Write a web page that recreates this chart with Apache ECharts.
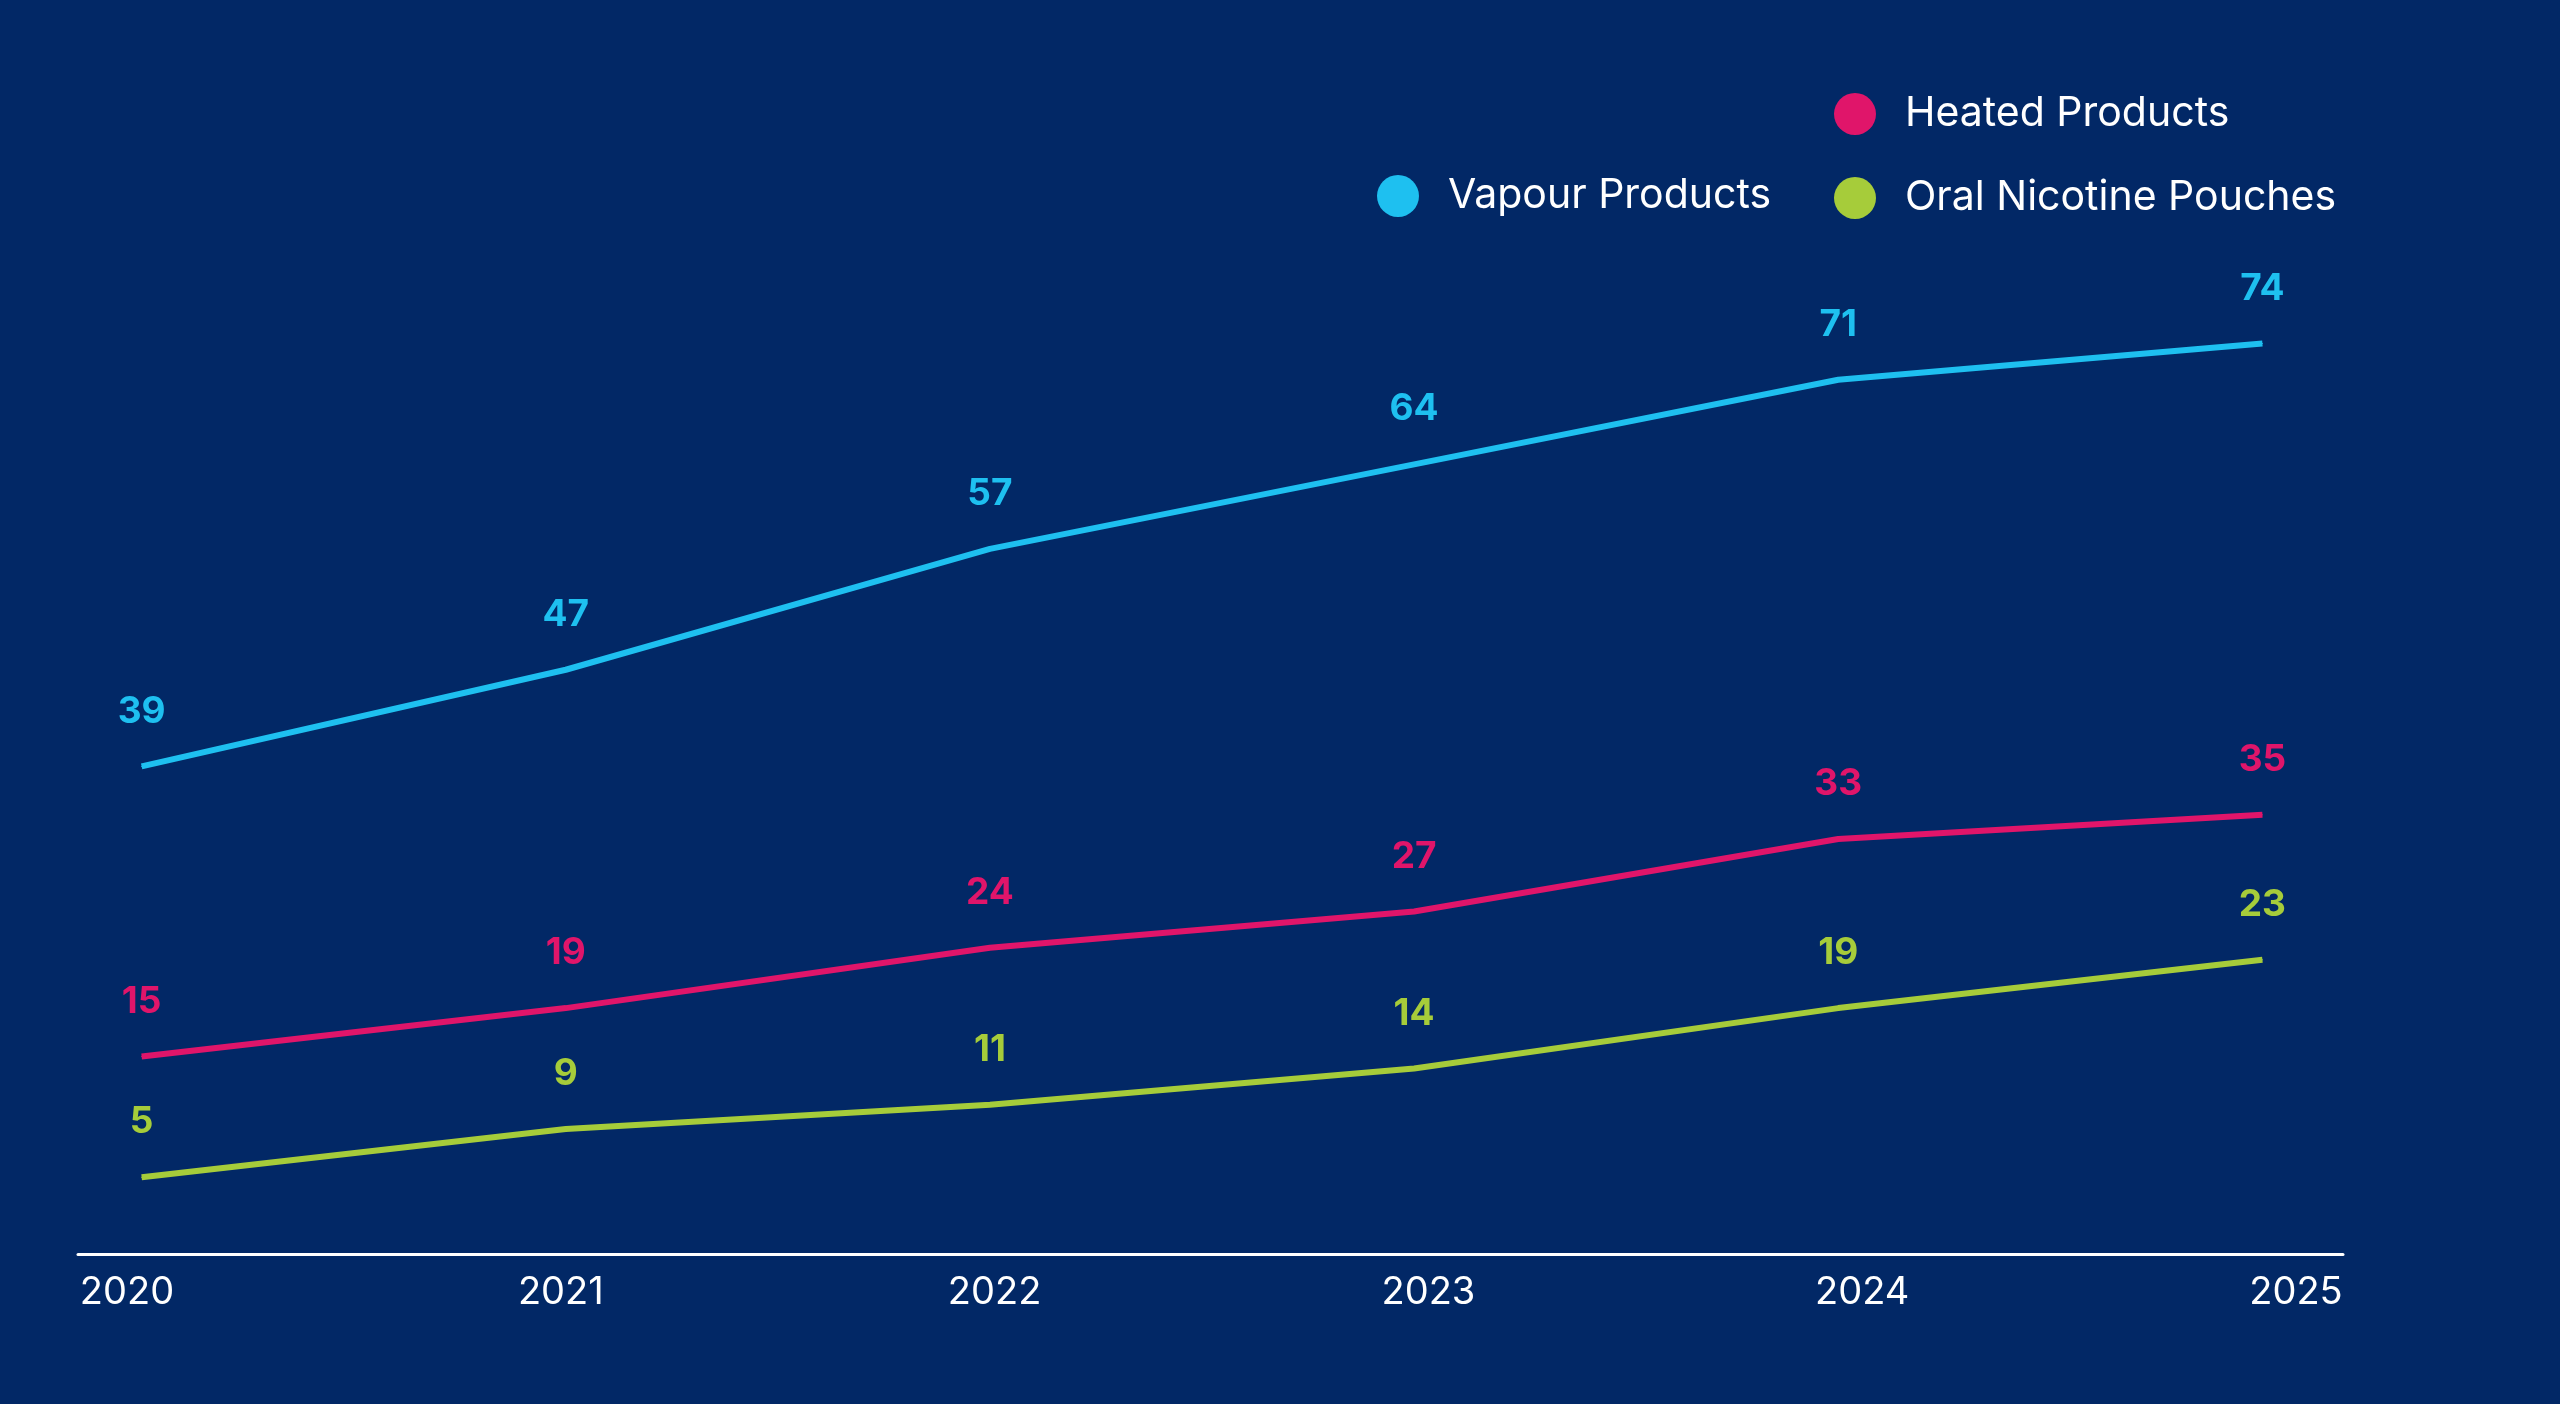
<!DOCTYPE html>
<html><head><meta charset="utf-8">
<script src="https://cdn.jsdelivr.net/npm/echarts@6/dist/echarts.min.js"></script>
<style>html,body{margin:0;padding:0;background:#022866;}#c{width:2560px;height:1404px;}</style>
</head><body><div id="c"></div>
<script>
const years = [2020, 2021, 2022, 2023, 2024, 2025];
const yearLabels = ['2020','2021','2022','2023','2024','2025'];
const vapour = [39, 47, 57, 64, 71, 74];
const heated = [15, 19, 24, 27, 33, 35];
const oral = [5, 9, 11, 14, 19, 23];
const C = {v:'#1ec0f0', h:'#e0156a', o:'#a6cc3a'};
const font = 'Inter, Lato, sans-serif';
const chart = echarts.init(document.getElementById('c'));
function ser(name, data, color){
  return {name, type:'line', xAxisIndex:0, yAxisIndex:0, data: years.map((y,i)=>[y,data[i]]),
    symbol:'circle', symbolSize:1, showSymbol:true, lineStyle:{width:6,color}, itemStyle:{color},
    label:{show:true, position:'top', distance:36, color, fontSize:37, fontWeight:'bold', fontFamily:font,
      formatter:p=>p.value[1]}};
}
const lt = {color:'#fff', fontSize:41, fontFamily:font, padding:[0,0,0,24]};
chart.setOption({
  backgroundColor:'#022866',
  animation:false,
  legend:[
    {data:['Vapour Products'], left:1372, top:170, icon:'circle', itemWidth:42, itemHeight:42, textStyle:lt},
    {data:['Heated Products','Oral Nicotine Pouches'], orient:'vertical', left:1829, top:88, itemGap:42,
     icon:'circle', itemWidth:42, itemHeight:42, textStyle:lt}
  ],
  grid:[{left:78, right:217, top:271, bottom:150},
        {left:127, right:264, top:271, bottom:150}],
  xAxis:[
    {type:'value', gridIndex:0, min:2019.85, max:2025.19, axisLine:{show:true, onZero:false, lineStyle:{color:'#fff', width:3}},
     axisTick:{show:false}, axisLabel:{show:false}, splitLine:{show:false}},
    {type:'category', gridIndex:1, data:yearLabels, boundaryGap:false, axisLine:{show:false}, axisTick:{show:false},
     splitLine:{show:false}, axisLabel:{color:'#fff', fontSize:38, fontFamily:font, margin:20}}
  ],
  yAxis:[
    {type:'value', gridIndex:0, min:-1.35, max:80, show:false},
    {type:'value', gridIndex:1, min:0, max:1, show:false}
  ],
  series:[ser('Vapour Products', vapour, C.v), ser('Heated Products', heated, C.h), ser('Oral Nicotine Pouches', oral, C.o)]
});
</script></body></html>
